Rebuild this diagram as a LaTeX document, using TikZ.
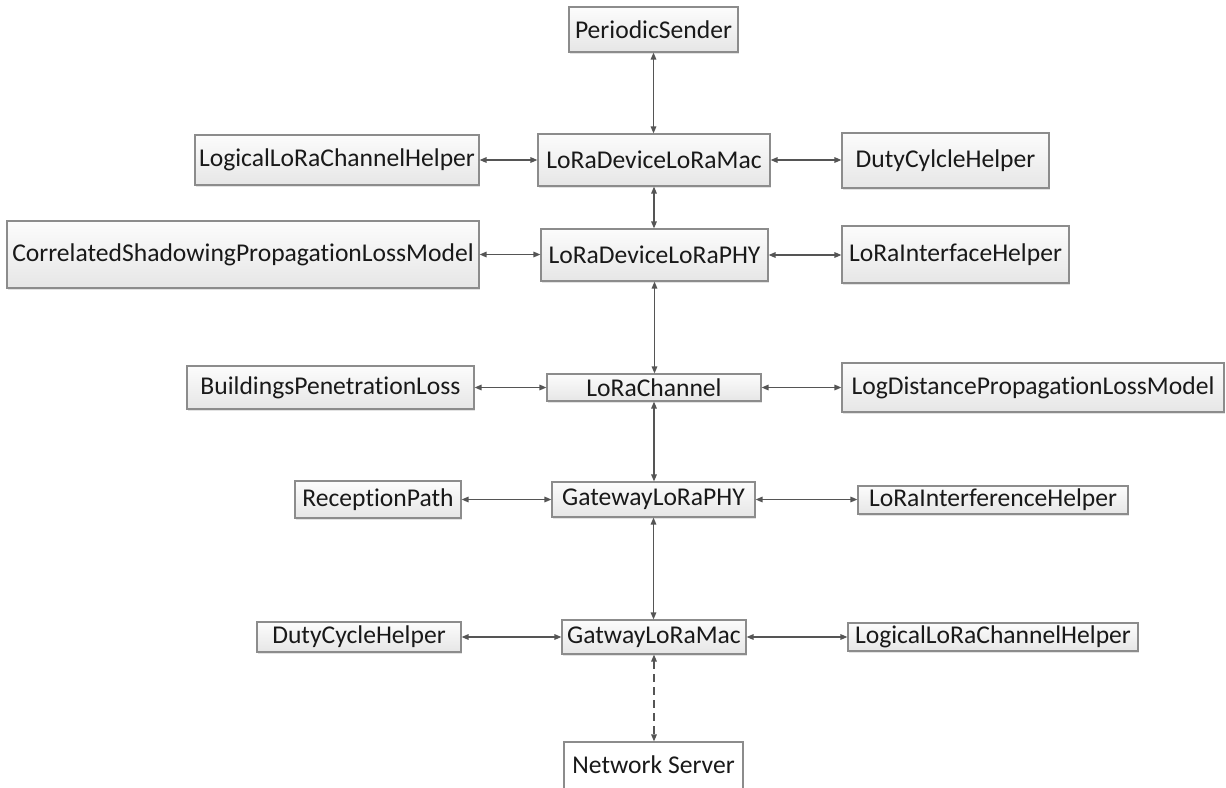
\documentclass[tikz,border=0pt]{standalone}
\usepackage{fontspec}
\setmainfont{Carlito}[Ligatures={NoCommon,NoContextual}]
\usetikzlibrary{arrows.meta,shadows}
\definecolor{boxline}{HTML}{8C8C8C}
\definecolor{linkcol}{HTML}{555555}
\definecolor{boxtop}{HTML}{FCFCFC}
\definecolor{boxbot}{HTML}{E6E6E6}
\tikzset{
  classbox/.style={draw=boxline, line width=1.1pt, inner sep=0pt,
    top color=boxtop, bottom color=boxbot,
    drop shadow={shadow xshift=1.2pt, shadow yshift=-1.5pt, opacity=0.18, fill=black!60},
    font=\fontsize{25.6}{30}\selectfont, text=black!90},
  plainbox/.style={draw=boxline, line width=1.1pt, inner sep=0pt, fill=white,
    font=\fontsize{25.6}{30}\selectfont, text=black!90},
  link/.style={draw=linkcol, line width=1.4pt,
    {Triangle[length=7pt,width=5.5pt]}-{Triangle[length=7pt,width=5.5pt]}},
  dashlink/.style={link, dash pattern=on 8pt off 5pt}
}
\begin{document}
\begin{tikzpicture}[x=1pt,y=-1pt]
\useasboundingbox (0,0) rectangle (1226,787);
\clip (0,0) rectangle (1226,787);

% central stack
\node[classbox, minimum width=169pt, minimum height=45pt] (ps)   at (653.5,29.5) {PeriodicSender};
\node[classbox, minimum width=232pt, minimum height=52pt] (mac)  at (654,160)    {LoRaDeviceLoRaMac};
\node[classbox, minimum width=227pt, minimum height=52pt] (phy)  at (654.5,255)  {LoRaDeviceLoRaPHY};
\node[classbox, minimum width=214pt, minimum height=27pt] (ch)   at (654,387.5)  {LoRaChannel};
\node[classbox, minimum width=203pt, minimum height=35pt] (gphy) at (653.5,499.5){GatewayLoRaPHY};
\node[classbox, minimum width=184pt, minimum height=34pt] (gmac) at (654,637)    {GatwayLoRaMac};
\node[plainbox, minimum width=179pt, minimum height=50pt] (ns)   at (653.5,767)  {\raisebox{4pt}{Network Server}};

% left column
\node[classbox, minimum width=284pt, minimum height=50pt] (llch1) at (337,160)    {LogicalLoRaChannelHelper};
\node[classbox, minimum width=472pt, minimum height=67pt] (csplm) at (243,254.5)  {CorrelatedShadowingPropagationLossModel};
\node[classbox, minimum width=287pt, minimum height=43pt] (bpl)   at (330.5,387.5){BuildingsPenetrationLoss};
\node[classbox, minimum width=166pt, minimum height=37pt] (rp)    at (378,499.5)  {ReceptionPath};
\node[classbox, minimum width=204pt, minimum height=30pt] (dch2)  at (359,637)    {DutyCycleHelper};

% right column
\node[classbox, minimum width=207pt, minimum height=55pt] (dch1)  at (945.5,160.5){DutyCylcleHelper};
\node[classbox, minimum width=227pt, minimum height=57pt] (lih)   at (955.5,254.5){LoRaInterfaceHelper};
\node[classbox, minimum width=382pt, minimum height=49pt] (ldplm) at (1033,387.5) {LogDistancePropagationLossModel};
\node[classbox, minimum width=270pt, minimum height=28pt] (lifh)  at (993,500)    {LoRaInterferenceHelper};
\node[classbox, minimum width=290pt, minimum height=28pt] (llch2) at (993,637)    {LogicalLoRaChannelHelper};

% vertical links
\draw[link] (ps.south)   -- (ps.south |- mac.north);
\draw[link] (mac.south)  -- (mac.south |- phy.north);
\draw[link] (phy.south)  -- (phy.south |- ch.north);
\draw[link] (ch.south)   -- (ch.south |- gphy.north);
\draw[link] (gphy.south) -- (gphy.south |- gmac.north);
\draw[dashlink] (gmac.south) -- (gmac.south |- ns.north);

% horizontal links
\draw[link] (llch1.east) -- (llch1.east -| mac.west);
\draw[link] (mac.east)   -- (mac.east -| dch1.west);
\draw[link] (csplm.east) -- (csplm.east -| phy.west);
\draw[link] (phy.east)   -- (phy.east -| lih.west);
\draw[link] (bpl.east)   -- (bpl.east -| ch.west);
\draw[link] (ch.east)    -- (ch.east -| ldplm.west);
\draw[link] (rp.east)    -- (rp.east -| gphy.west);
\draw[link] (gphy.east)  -- (gphy.east -| lifh.west);
\draw[link] (dch2.east)  -- (dch2.east -| gmac.west);
\draw[link] (gmac.east)  -- (gmac.east -| llch2.west);
\end{tikzpicture}
\end{document}
